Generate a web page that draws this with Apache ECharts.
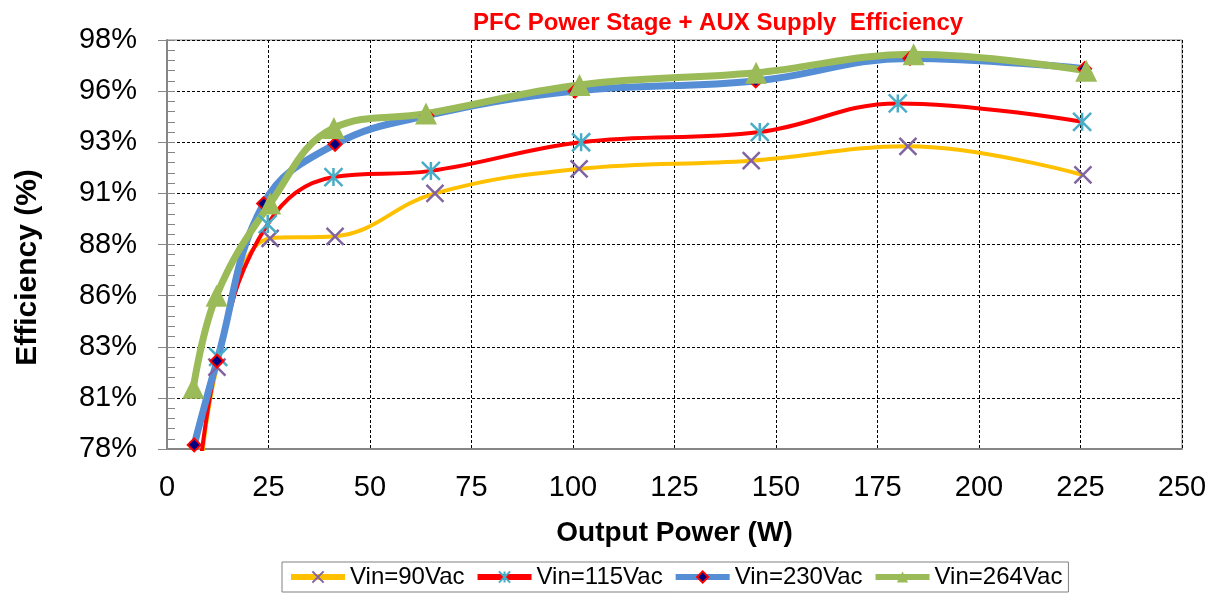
<!DOCTYPE html>
<html>
<head>
    <meta charset="utf-8">
    <title>PFC Power Stage + AUX Supply Efficiency</title>
    <script src="https://cdn.jsdelivr.net/npm/echarts@6/dist/echarts.min.js"></script>
    <style>
        html, body { margin: 0; padding: 0; background: #fff; }
    </style>
</head>
<body>
    <div id="main" style="width: 1217px;height:595px;"></div>
    <script type="text/javascript">
        // values: output power (W) and efficiency (%)
        var names = ['Vin=90Vac', 'Vin=115Vac', 'Vin=230Vac', 'Vin=264Vac'];
        var p90 = [6.8, 12.3, 25.4, 41.4, 66.0, 101.5, 143.9, 182.5, 225.6];
        var eff90 = [73.5, 82.0, 88.3, 88.4, 90.5, 91.7, 92.1, 92.8, 91.4];
        var p115 = [6.8, 12.6, 24.8, 41.0, 65.0, 102.0, 146.0, 180.0, 225.4];
        var eff115 = [74.5, 82.5, 89.0, 91.3, 91.6, 93.0, 93.5, 94.9, 94.0];
        var p230 = [6.7, 12.3, 23.8, 41.4, 64.0, 100.5, 145.0, 183.0, 226.0];
        var eff230 = [78.2, 82.3, 90.0, 92.9, 94.3, 95.5, 96.0, 97.1, 96.6];
        var p264 = [6.5, 12.2, 25.4, 41.1, 63.8, 101.6, 145.1, 183.9, 226.4];
        var eff264 = [81.0, 85.5, 90.0, 93.7, 94.4, 95.8, 96.4, 97.3, 96.5];

        function pairs(xs, ys) {
            return xs.map(function (x, i) { return [x, ys[i]]; });
        }

        var font = 'Liberation Sans, Arial, sans-serif';
        var xMark = 'path://M0,0L10,10M10,0L0,10';
        var starMark = 'path://M0,0L10,10M10,0L0,10M5,0L5,10';

        var myChart = echarts.init(document.getElementById('main'));
        var option = {
            animation: false,
            title: {
                text: 'PFC Power Stage + AUX Supply  Efficiency',
                left: 468,
                top: 6,
                textStyle: {
                    color: '#FF0000',
                    fontSize: 24,
                    fontWeight: 'bold',
                    fontFamily: font
                }
            },
            grid: {
                left: 167, right: 35, top: 40, bottom: 146,
                show: true,
                borderColor: '#868686',
                borderWidth: 1
            },
            legend: {
                data: names,
                left: 282,
                top: 562,
                itemWidth: 54,
                itemHeight: 14,
                itemGap: 10,
                padding: [3, 6],
                borderColor: '#808080',
                borderWidth: 1,
                lineStyle: { width: 6 },
                textStyle: { fontSize: 24, fontFamily: font, color: '#000' }
            },
            xAxis: {
                type: 'value',
                min: 0, max: 250, interval: 25,
                name: 'Output Power (W)',
                nameLocation: 'middle',
                nameGap: 70,
                nameTextStyle: { fontSize: 28, fontWeight: 'bold', fontFamily: font, color: '#000' },
                axisLine: { lineStyle: { color: '#868686', width: 2 } },
                axisTick: { show: false },
                axisLabel: { fontSize: 29, fontFamily: font, color: '#000', margin: 24 },
                splitLine: { lineStyle: { color: '#000', type: [3, 2], width: 1 } }
            },
            yAxis: [{
                type: 'value',
                min: 78, max: 98, interval: 2.5,
                name: 'Efficiency (%)',
                nameLocation: 'middle',
                nameGap: 124,
                nameTextStyle: {
                    fontSize: 30, fontWeight: 'bold', fontFamily: font, color: '#000',
                    padding: [0, 46, 0, 0]
                },
                axisLine: { show: true, lineStyle: { color: '#868686', width: 2 } },
                axisTick: { show: true, length: 9, lineStyle: { color: '#868686' } },
                axisLabel: {
                    fontSize: 29, fontFamily: font, color: '#000', margin: 30,
                    formatter: function (v) { return Math.round(v) + '%'; }
                },
                splitLine: { lineStyle: { color: '#000', type: [3, 2], width: 1 } }
            }, {
                // minor ticks drawn on the inside of the left axis
                type: 'value',
                position: 'left',
                min: 78, max: 98, interval: 0.5,
                axisLine: { show: false },
                axisTick: { show: true, inside: true, length: 8, lineStyle: { color: '#868686' } },
                axisLabel: { show: false },
                splitLine: { show: false }
            }],
            series: [{
                name: names[0],
                type: 'line',
                smooth: 0.4,
                data: pairs(p90, eff90),
                lineStyle: { color: '#FFC000', width: 4 },
                symbol: xMark,
                symbolSize: 17,
                itemStyle: { color: '#8064A2', borderColor: '#8064A2', borderWidth: 2.5 }
            }, {
                name: names[1],
                type: 'line',
                smooth: 0.4,
                data: pairs(p115, eff115),
                lineStyle: { color: '#FF0000', width: 4 },
                symbol: starMark,
                symbolSize: 18,
                itemStyle: { color: '#4BACC6', borderColor: '#4BACC6', borderWidth: 2.5 }
            }, {
                name: names[2],
                type: 'line',
                smooth: 0.4,
                data: pairs(p230, eff230),
                lineStyle: { color: '#558ED5', width: 7 },
                symbol: 'diamond',
                symbolSize: 13,
                itemStyle: { color: '#000080', borderColor: '#FF0000', borderWidth: 2 }
            }, {
                name: names[3],
                type: 'line',
                smooth: 0.4,
                data: pairs(p264, eff264),
                lineStyle: { color: '#9BBB59', width: 7 },
                symbol: 'triangle',
                symbolSize: [22, 22],
                itemStyle: { color: '#9BBB59' }
            }]
        };
        myChart.setOption(option);
    </script>
</body>
</html>
